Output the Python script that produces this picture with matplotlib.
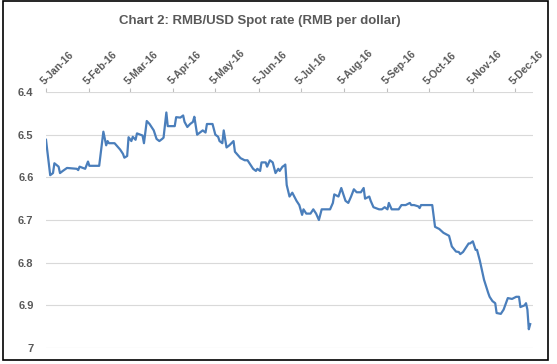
import matplotlib
matplotlib.use("Agg")
import matplotlib.pyplot as plt
import matplotlib.dates as mdates
import pandas as pd
from matplotlib.patches import Rectangle

plt.rcParams['font.family'] = ['Liberation Sans', 'DejaVu Sans']

# RMB per USD
dates = [
    "2016-01-05", "2016-01-08", "2016-01-10", "2016-01-11", "2016-01-14", "2016-01-15",
    "2016-01-17", "2016-01-20", "2016-01-27", "2016-01-28", "2016-01-29", "2016-02-02",
    "2016-02-04", "2016-02-05", "2016-02-12", "2016-02-15", "2016-02-17", "2016-02-18",
    "2016-02-19", "2016-02-23", "2016-02-27", "2016-02-29", "2016-03-01", "2016-03-03",
    "2016-03-04", "2016-03-06", "2016-03-07", "2016-03-09", "2016-03-10", "2016-03-14",
    "2016-03-15", "2016-03-17", "2016-03-19", "2016-03-22", "2016-03-24", "2016-03-26",
    "2016-03-28", "2016-03-29", "2016-03-31", "2016-04-01", "2016-04-06", "2016-04-07",
    "2016-04-10", "2016-04-12", "2016-04-13", "2016-04-15", "2016-04-17", "2016-04-19",
    "2016-04-20", "2016-04-22", "2016-04-24", "2016-04-26", "2016-04-28", "2016-04-29",
    "2016-05-03", "2016-05-05", "2016-05-07", "2016-05-08", "2016-05-10", "2016-05-11",
    "2016-05-13", "2016-05-15", "2016-05-18", "2016-05-19", "2016-05-23", "2016-05-26",
    "2016-05-28", "2016-06-01", "2016-06-03", "2016-06-04", "2016-06-06", "2016-06-07",
    "2016-06-10", "2016-06-11", "2016-06-13", "2016-06-15", "2016-06-17", "2016-06-19",
    "2016-06-20", "2016-06-22", "2016-06-23", "2016-06-24", "2016-06-25", "2016-06-27",
    "2016-06-29", "2016-07-02", "2016-07-04", "2016-07-06", "2016-07-07", "2016-07-09",
    "2016-07-12", "2016-07-14", "2016-07-16", "2016-07-18", "2016-07-20", "2016-07-22",
    "2016-07-26", "2016-07-28", "2016-07-29", "2016-08-01", "2016-08-03", "2016-08-05",
    "2016-08-06", "2016-08-08", "2016-08-10", "2016-08-12", "2016-08-14", "2016-08-17",
    "2016-08-19", "2016-08-20", "2016-08-23", "2016-08-24", "2016-08-26", "2016-08-30",
    "2016-09-01", "2016-09-03", "2016-09-05", "2016-09-06", "2016-09-08", "2016-09-13",
    "2016-09-15", "2016-09-18", "2016-09-21", "2016-09-22", "2016-09-24", "2016-09-27",
    "2016-09-28", "2016-09-29", "2016-10-07", "2016-10-09", "2016-10-12", "2016-10-15",
    "2016-10-19", "2016-10-21", "2016-10-24", "2016-10-26", "2016-10-27", "2016-10-29",
    "2016-11-01", "2016-11-02", "2016-11-03", "2016-11-05", "2016-11-07", "2016-11-08",
    "2016-11-10", "2016-11-13", "2016-11-16", "2016-11-17", "2016-11-19", "2016-11-21",
    "2016-11-22", "2016-11-25", "2016-11-27", "2016-11-30", "2016-12-03", "2016-12-06",
    "2016-12-08", "2016-12-09", "2016-12-12", "2016-12-13", "2016-12-14", "2016-12-15",
    "2016-12-16",
]
rates = [
    6.512, 6.595, 6.590, 6.567, 6.575, 6.590,
    6.585, 6.578, 6.580, 6.583, 6.575, 6.580,
    6.563, 6.573, 6.573, 6.493, 6.525, 6.515,
    6.520, 6.520, 6.535, 6.545, 6.554, 6.550,
    6.506, 6.515, 6.505, 6.512, 6.497, 6.502,
    6.520, 6.468, 6.475, 6.490, 6.510, 6.515,
    6.510, 6.507, 6.448, 6.480, 6.480, 6.459,
    6.460, 6.455, 6.470, 6.482, 6.475, 6.470,
    6.458, 6.500, 6.495, 6.490, 6.495, 6.475,
    6.475, 6.500, 6.505, 6.515, 6.520, 6.490,
    6.530, 6.525, 6.515, 6.540, 6.555, 6.560,
    6.560, 6.580, 6.585, 6.580, 6.585, 6.565,
    6.565, 6.575, 6.560, 6.565, 6.590, 6.580,
    6.585, 6.575, 6.573, 6.570, 6.618, 6.645,
    6.636, 6.655, 6.665, 6.688, 6.675, 6.685,
    6.685, 6.675, 6.685, 6.700, 6.675, 6.675,
    6.675, 6.660, 6.640, 6.645, 6.625, 6.645,
    6.655, 6.660, 6.645, 6.628, 6.635, 6.635,
    6.625, 6.650, 6.645, 6.655, 6.670, 6.675,
    6.675, 6.670, 6.675, 6.660, 6.675, 6.675,
    6.665, 6.665, 6.660, 6.665, 6.665, 6.668,
    6.672, 6.665, 6.665, 6.716, 6.721, 6.730,
    6.737, 6.762, 6.774, 6.775, 6.780, 6.775,
    6.760, 6.755, 6.755, 6.750, 6.770, 6.770,
    6.795, 6.840, 6.871, 6.880, 6.890, 6.895,
    6.918, 6.920, 6.910, 6.883, 6.885, 6.880,
    6.880, 6.904, 6.900, 6.895, 6.910, 6.956,
    6.944,
]
tick_dates = ["2016-%02d-05" % m for m in range(1, 13)]
y_ticks = [6.4, 6.5, 6.6, 6.7, 6.8, 6.9, 7.0]
y_labels = ["6.4", "6.5", "6.6", "6.7", "6.8", "6.9", "7"]

x = pd.to_datetime(dates)
grey = "#595959"

fig = plt.figure(figsize=(5.57, 3.64), dpi=100)
ax = fig.add_axes([46 / 557, 1 - 348 / 364, (533 - 46) / 557, (348 - 92) / 364])

ax.plot(x, rates, color="#4A7EBB", lw=1.6, solid_joinstyle="round")

ax.set_ylim(7.0, 6.4)
ax.set_yticks(y_ticks)
ax.set_yticklabels(y_labels)
ax.set_xlim(pd.Timestamp("2016-01-05"), pd.Timestamp("2016-12-18"))
ax.set_xticks(pd.to_datetime(tick_dates))
ax.xaxis.set_major_formatter(mdates.DateFormatter("%-d-%b-%y"))
ax.xaxis.tick_top()

ax.grid(axis="y", color="#D9D9D9", lw=0.8)
for s in ax.spines.values():
    s.set_visible(False)
ax.tick_params(axis="y", length=0, pad=9, labelsize=8, labelcolor=grey)
ax.tick_params(axis="x", direction="out", length=3, color="#BFBFBF", pad=1,
               labelsize=7.5, labelcolor=grey)
for lab in ax.get_yticklabels():
    lab.set_fontweight("bold")
for lab in ax.get_xticklabels():
    lab.set_fontweight("bold")
    lab.set_rotation(45)
    lab.set_ha("left")
    lab.set_va("bottom")
    lab.set_rotation_mode("anchor")

fig.text(260 / 557, 1 - 21 / 364, "Chart 2: RMB/USD Spot rate (RMB per dollar)",
         ha="center", va="center", fontsize=9.5, fontweight="bold", color=grey)

fig.patches.append(Rectangle((3 / 557, 1 - 360 / 364), 545 / 557, 359 / 364,
                             transform=fig.transFigure, fill=False,
                             edgecolor="black", lw=1.2))

fig.savefig("out.png", dpi=100)
